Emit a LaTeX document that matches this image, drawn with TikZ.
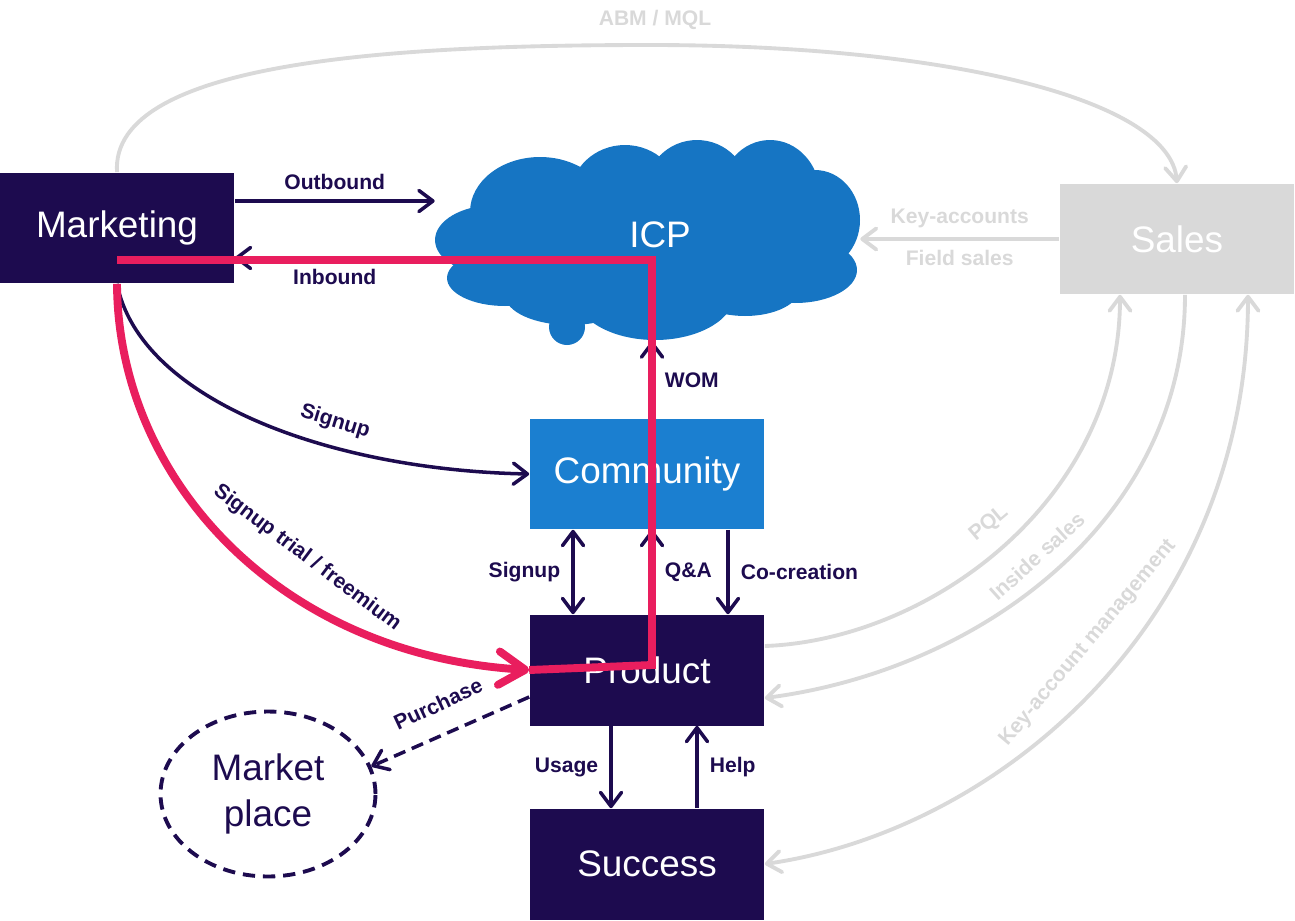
\documentclass[tikz,border=0pt]{standalone}
\usepackage{fontspec}
\setmainfont{Liberation Sans}
\usetikzlibrary{arrows.meta,calc,shapes.geometric}

\definecolor{navy}{HTML}{1D0B4F}
\definecolor{icpblue}{HTML}{1675C3}
\definecolor{commblue}{HTML}{1B7FD0}
\definecolor{pinkred}{HTML}{E91E5E}
\definecolor{salesgray}{HTML}{D9D9D9}

\tikzset{
  barb/.tip={Straight Barb[length=8pt,width=12pt,round]},
  bigbarb/.tip={Straight Barb[length=15pt,width=19pt,round]},
}

\begin{document}
\begin{tikzpicture}[x=0.02cm,y=-0.02cm,
    box/.style={rectangle,fill=navy,text=white,minimum width=4.7cm,minimum height=2.22cm,inner sep=0pt,font=\fontsize{21}{25}\selectfont},
    lbl/.style={text=navy,font=\bfseries\fontsize{12}{14}\selectfont},
    glbl/.style={text=salesgray,font=\bfseries\fontsize{12}{14}\selectfont},
    flow/.style={draw=navy,line width=2pt,-barb},
    gflow/.style={draw=salesgray,line width=2.2pt,-barb},
    journey/.style={draw=pinkred,line width=4.5pt}]
  % Frame of the picture
  \useasboundingbox (0,0) rectangle (1295,920);

  % The ICP cloud
  \begin{scope}[fill=icpblue]
    \fill (650,245) ellipse [x radius=3.6cm, y radius=1.2cm];
    \fill (540,212) ellipse [x radius=1.4cm, y radius=1.1cm];
    \fill (625,197) ellipse [x radius=1.1cm, y radius=1.04cm];
    \fill (697,192) ellipse [x radius=1.04cm, y radius=1.04cm];
    \fill (770,195) ellipse [x radius=1.0cm, y radius=1.1cm];
    \fill (815,220) ellipse [x radius=0.9cm, y radius=1.0cm];
    \fill (495,240) ellipse [x radius=1.2cm, y radius=0.7cm];
    \fill (505,278) ellipse [x radius=1.16cm, y radius=0.56cm];
    \fill (795,270) ellipse [x radius=1.24cm, y radius=0.66cm];
    \fill (655,293) ellipse [x radius=1.6cm, y radius=0.94cm];
    \fill (745,288) ellipse [x radius=1.1cm, y radius=0.56cm];
    \fill (570,295) ellipse [x radius=1.3cm, y radius=0.6cm];
    \fill (567,327) circle [radius=0.36cm];
  \end{scope}
  \node[minimum width=8.5cm,minimum height=4cm,inner sep=0pt] (icp) at (647.5,241) {};
  \node[text=white,font=\fontsize{21}{25}\selectfont] (icplbl) at (660,235) {ICP};

  % Boxes
  \node[box] (mkt) at (117,228) {Marketing};
  \node[box,fill=salesgray] (sales) at (1177,239) {Sales};
  \node[box,fill=commblue] (comm) at (647,474) {Community};
  \node[box] (prod) at (647,670) {Product};
  \node[box] (succ) at (647,864) {Success};
  \node[ellipse,draw=navy,line width=2.2pt,dash pattern=on 7pt off 4.5pt,minimum width=4.3cm,minimum height=3.3cm,
        text=navy,align=center,font=\fontsize{21}{26}\selectfont] (mkp) at (268,794) {Market\\place};

  % Helper points
  \coordinate (ob) at ([yshift=0.54cm]mkt.east);
  \coordinate (ib) at ([yshift=-0.34cm]icp.west);
  \coordinate (wom) at ([xshift=0.1cm]comm.north);

  % Marketing and ICP
  \draw[flow] (ob) -- (ob -| icp.west) node[lbl,midway,above=2pt] {Outbound};
  \draw[flow] (ib) -- (ib -| mkt.east) node[lbl,midway,below=2pt] {Inbound};

  % Sales side (grey)
  \draw[gflow] (sales.west) -- (sales.west -| icp.east)
    node[glbl,midway,above=2pt] {Key-accounts} node[glbl,midway,below=2pt] {Field sales};
  \draw[gflow] (mkt.north) .. controls (110,60) and (400,45) .. (650,45)
    .. controls (950,45) and (1170,100) .. (sales.north);
  \node[glbl] (abm) at (655,20) {ABM / MQL};
  \draw[gflow] ([yshift=0.48cm]prod.east) .. controls (930,640) and (1120,500) .. ([xshift=-1.14cm]sales.south);
  \draw[gflow] ([xshift=0.16cm]sales.south) .. controls (1185,520) and (980,670) .. ([yshift=-0.56cm]prod.east);
  \draw[gflow,barb-barb] (succ.east) .. controls (1000,830) and (1248,620) .. ([xshift=1.42cm]sales.south);
  \node[glbl,rotate=40] (pql) at (989,524) {PQL};
  \node[glbl,rotate=42] (insd) at (1037,556) {Inside sales};
  \node[glbl,rotate=50] (kam) at (1088,643) {Key-account management};

  % Signup to community
  \draw[flow] (mkt.south) .. controls (140,400) and (330,470) .. (comm.west);
  \node[lbl,rotate=-17] (sgn) at (335,422) {Signup};

  % Community, product and success
  \draw[flow] (wom) -- (wom |- icp.south) node[lbl,midway,right=3pt] {WOM};
  \draw[flow,barb-barb] ([xshift=-1.48cm]comm.south) -- ([xshift=-1.48cm]prod.north)
    node[lbl,midway,left=3pt] {Signup};
  \draw[flow] (wom |- prod.north) -- (wom |- comm.south) node[lbl,midway,right=3pt] {Q\&A};
  \draw[flow] ([xshift=1.62cm]comm.south) -- ([xshift=1.62cm]prod.north)
    node[lbl,midway,right=3pt] {Co-creation};
  \draw[flow] ([xshift=-0.72cm]prod.south) -- ([xshift=-0.72cm]succ.north)
    node[lbl,midway,left=3pt] {Usage};
  \draw[flow] ([xshift=1cm]succ.north) -- ([xshift=1cm]prod.south)
    node[lbl,midway,right=3pt] {Help};

  % Purchase in the market place
  \draw[flow,dash pattern=on 7pt off 4pt] ([yshift=-0.54cm]prod.west) -- (mkp.15);
  \node[lbl,rotate=25] (pch) at (438,704) {Purchase};

  % The journey (red)
  \draw[journey,-bigbarb] (mkt.south) .. controls (118,480) and (280,655) .. (prod.west);
  \node[lbl,rotate=-37] (trial) at (307,558) {Signup trial / freemium};
  \coordinate (jstart) at ([yshift=-0.64cm]mkt.center);
  \draw[journey] (jstart) -- (wom |- jstart) -- ($(wom |- prod.center)+(0,-5)$) -- (prod.west);
\end{tikzpicture}
\end{document}
